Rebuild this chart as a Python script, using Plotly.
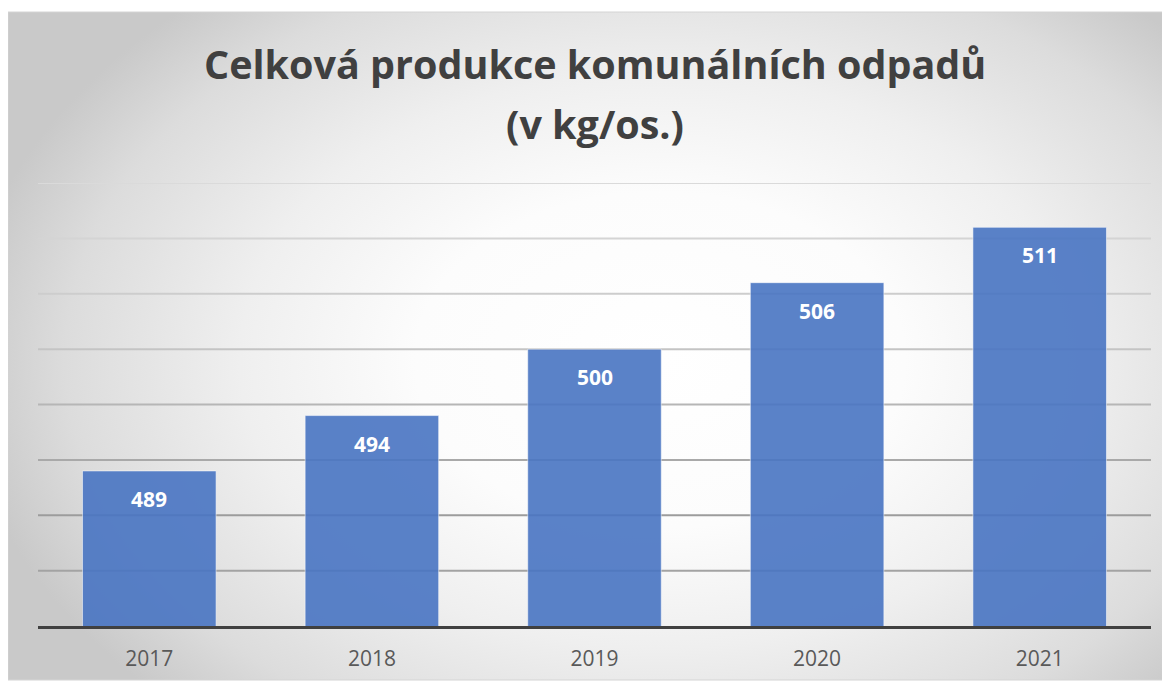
import base64
import plotly.graph_objects as go

# ---- data ----
years = ["2017", "2018", "2019", "2020", "2021"]
values = [489, 494, 500, 506, 511]
value_labels = ["489", "494", "500", "506", "511"]
title_line1 = "Celková produkce komunálních odpadů"
title_line2 = "(v kg/os.)"
y_min, y_max, y_step = 475, 515, 5

# ---- layout geometry (pixels, figure coordinates; page adds an 8px body margin) ----
W, H = 1170, 684
OFF = 8
L, R, T, B = 38 - OFF, 1151 - OFF, 183 - OFF, 626 - OFF
PW, PH = R - L, B - T

def px_x(x):
    return (x - L) / PW

def px_y(y):
    return (B - y) / PH

# frame
FX0, FX1, FY0, FY1 = 8 - OFF, 1168 - OFF, 12 - OFF, 680 - OFF
fw, fh = FX1 - FX0, FY1 - FY0
cx, cy = 660 - 8, 360 - 12
svg = f'''<svg xmlns="http://www.w3.org/2000/svg" width="{fw}" height="{fh}" viewBox="0 0 {fw} {fh}" preserveAspectRatio="none">
<defs><radialGradient id="g" gradientUnits="userSpaceOnUse" cx="0" cy="0" r="1" gradientTransform="translate({cx} {cy}) scale(700 480)">
<stop offset="0" stop-color="#ffffff"/><stop offset="0.35" stop-color="#fcfcfc"/><stop offset="0.6" stop-color="#efefef"/>
<stop offset="0.85" stop-color="#dcdcdc"/><stop offset="1" stop-color="#c9c9c9"/></radialGradient></defs>
<rect x="0" y="0" width="{fw}" height="{fh}" fill="url(#g)"/></svg>'''
svg_uri = "data:image/svg+xml;base64," + base64.b64encode(svg.encode()).decode()

fig = go.Figure()
fig.add_trace(go.Bar(
    x=years, y=values,
    marker=dict(color="#4975C3", opacity=0.9,
                line=dict(color="rgba(255,255,255,0.55)", width=1)),
    hoverinfo="skip",
))

# value labels inside bars (x given as category index)
annotations = []
for i, (v, lab) in enumerate(zip(values, value_labels)):
    annotations.append(dict(x=i, y=v, xref="x", yref="y", text=f"<b>{lab}</b>",
                            showarrow=False, yanchor="middle", yshift=-28,
                            font=dict(family="Open Sans", size=21, color="#ffffff")))
# title lines
annotations.append(dict(x=0.5, y=px_y(64 - OFF), xref="paper", yref="paper", text=f"<b>{title_line1}</b>",
                        showarrow=False, xanchor="center", yanchor="middle",
                        font=dict(family="Open Sans", size=39.5, color="#404040")))
annotations.append(dict(x=0.5, y=px_y(124 - OFF), xref="paper", yref="paper", text=f"<b>{title_line2}</b>",
                        showarrow=False, xanchor="center", yanchor="middle",
                        font=dict(family="Open Sans", size=39.5, color="#404040")))

# gridlines with gradient colours (lighter at top)
grid_colors = {480: "#a3a3a3", 485: "#9c9c9c", 490: "#a9a9a9", 495: "#b6b6b6",
               500: "#c4c4c4", 505: "#cdcdcd", 510: "#d4d4d4", 515: "#dadada"}
shapes = []
for gv in range(y_min + y_step, y_max + 1, y_step):
    shapes.append(dict(type="line", xref="paper", yref="y", x0=0, x1=1, y0=gv, y1=gv,
                       line=dict(color=grid_colors.get(gv, "#bfbfbf"), width=2), layer="below"))
# frame border
shapes.append(dict(type="rect", xref="paper", yref="paper",
                   x0=px_x(FX0), x1=px_x(FX1), y0=px_y(FY1), y1=px_y(FY0),
                   line=dict(color="#d4d4d4", width=1), fillcolor="rgba(0,0,0,0)", layer="below"))

fig.update_layout(
    width=W, height=H,
    margin=dict(l=L, r=W - R, t=T, b=H - B, autoexpand=False),
    paper_bgcolor="#ffffff",
    plot_bgcolor="rgba(0,0,0,0)",
    showlegend=False,
    bargap=0.4,
    annotations=annotations,
    shapes=shapes,
    images=[dict(source=svg_uri, xref="paper", yref="paper",
                 x=px_x(FX0), y=px_y(FY0), sizex=fw / PW, sizey=fh / PH,
                 xanchor="left", yanchor="top", sizing="stretch", layer="below")],
    xaxis=dict(type="category", range=[-0.5, len(years) - 0.5], showgrid=False, showline=True,
               linecolor="#404040", linewidth=3, automargin=False, ticklabelstandoff=12,
               ticks="", tickfont=dict(family="Open Sans", size=21, color="#595959"),
               fixedrange=True, zeroline=False),
    yaxis=dict(range=[y_min, y_max], showgrid=False, showticklabels=False, zeroline=False,
               showline=False, ticks="", fixedrange=True, automargin=False),
)

fig.write_html("out.html")
